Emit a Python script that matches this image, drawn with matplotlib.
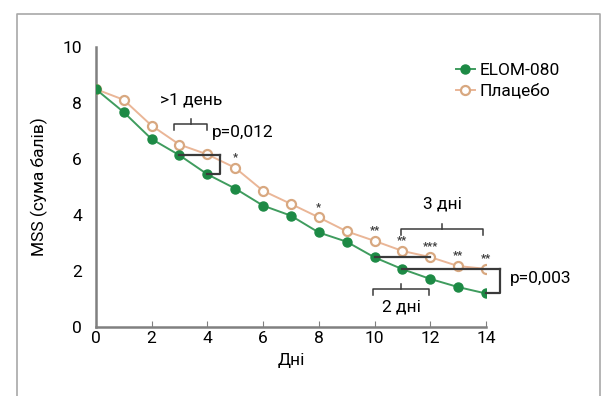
import matplotlib

matplotlib.use("Agg")
import matplotlib.pyplot as plt
from matplotlib.lines import Line2D

plt.rcParams["font.family"] = ["Roboto", "DejaVu Sans"]

days = list(range(15))
elom = [8.5, 7.68, 6.72, 6.14, 5.46, 4.95, 4.34, 3.98, 3.38, 3.05, 2.49, 2.07, 1.72, 1.43, 1.2]
placebo = [8.5, 8.12, 7.2, 6.52, 6.17, 5.69, 4.87, 4.4, 3.92, 3.42, 3.08, 2.72, 2.5, 2.18, 2.08]
star_days = [5, 8, 10, 11, 12, 13, 14]
star_labels = ["*", "*", "**", "**", "***", "**", "**"]
x_ticks = [0, 2, 4, 6, 8, 10, 12, 14]
y_ticks = [0, 2, 4, 6, 8, 10]

GREEN = "#1d8a45"
TAN_LINE = "#eab697"
TAN_EDGE = "#d8a880"
DARK = "#3a3a3a"
FS = 12.5

fig = plt.figure(figsize=(6.06, 3.96), dpi=100)
ax = fig.add_axes([0.158, 0.174, 0.644, 0.707])

# outer frame of the figure panel
frame = Line2D([17 / 606, 17 / 606, 600 / 606, 600 / 606],
               [0, 1 - 14 / 396, 1 - 14 / 396, 0],
               transform=fig.transFigure, color="#a8a8a8", lw=1.2)
fig.add_artist(frame)

ax.plot(days, placebo, color=TAN_LINE, lw=1.4, marker="o", ms=6.5,
        mfc="white", mec=TAN_EDGE, mew=1.6, label="Плацебо", zorder=3)
ax.plot(days, elom, color="#3f9c5e", lw=1.4, marker="o", ms=6.5,
        mfc=GREEN, mec=GREEN, label="ELOM-080", zorder=4)

for d, s in zip(star_days, star_labels):
    ax.text(d, placebo[d] + 0.38, s, ha="center", va="center", fontsize=8,
            color=DARK, fontweight="bold")


def bracket(x0, x1, y, label, ly):
    xm = (x0 + x1) / 2
    ax.plot([x0, x0, x1, x1], [y - 0.2, y, y, y - 0.2], color=DARK, lw=1.1, clip_on=False)
    ax.plot([xm, xm], [y, y + 0.2], color=DARK, lw=1.1, clip_on=False)
    ax.text(xm, ly, label, ha="center", va="center", fontsize=FS, color="black")


# >1 день
bracket(2.82, 4.0, 7.25, ">1 день", 8.1)
ax.plot([3, 4.45], [elom[3], elom[3]], color=DARK, lw=1.6, zorder=5)
ax.plot([4, 4.45, 4.45], [elom[4], elom[4], elom[3]], color=DARK, lw=1.6, zorder=5)
ax.text(4.15, 6.95, "p=0,012", ha="left", va="center", fontsize=FS)

# 3 дні / 2 дні
bracket(10.95, 13.9, 3.5, "3 дні", 4.4)
bracket(9.95, 11.95, 1.35, "2 дні", 0.7)
ax.plot([10, 12], [elom[10], elom[10]], color=DARK, lw=1.6, zorder=5)
ax.plot([11, 14.5], [elom[11], elom[11]], color=DARK, lw=1.6, zorder=5, clip_on=False)
ax.plot([14, 14.5, 14.5], [elom[14], elom[14], elom[11]], color=DARK, lw=1.6,
        zorder=5, clip_on=False)
ax.text(14.85, 1.72, "p=0,003", ha="left", va="center", fontsize=FS)

ax.set_xlim(0, 14)
ax.set_ylim(0, 10)
ax.set_xticks(x_ticks)
ax.set_yticks(y_ticks)
ax.tick_params(axis="x", direction="in", length=4, color="#808080", labelsize=FS, pad=3)
ax.tick_params(axis="y", length=0, labelsize=FS, pad=10)
for side in ["top", "right"]:
    ax.spines[side].set_visible(False)
for side in ["left", "bottom"]:
    ax.spines[side].set_color("#808080")
    ax.spines[side].set_linewidth(1.8)
ax.set_xlabel("Дні", fontsize=FS, labelpad=5)
ax.set_ylabel("MSS (сума балів)", fontsize=FS, labelpad=10)

handles, labels = ax.get_legend_handles_labels()
ax.legend(handles[::-1], labels[::-1], loc="upper right", bbox_to_anchor=(1.23, 1.0),
          frameon=False, fontsize=FS, handlelength=1.1, handletextpad=0.3,
          labelspacing=0.3)

fig.savefig("out.png", dpi=100)
